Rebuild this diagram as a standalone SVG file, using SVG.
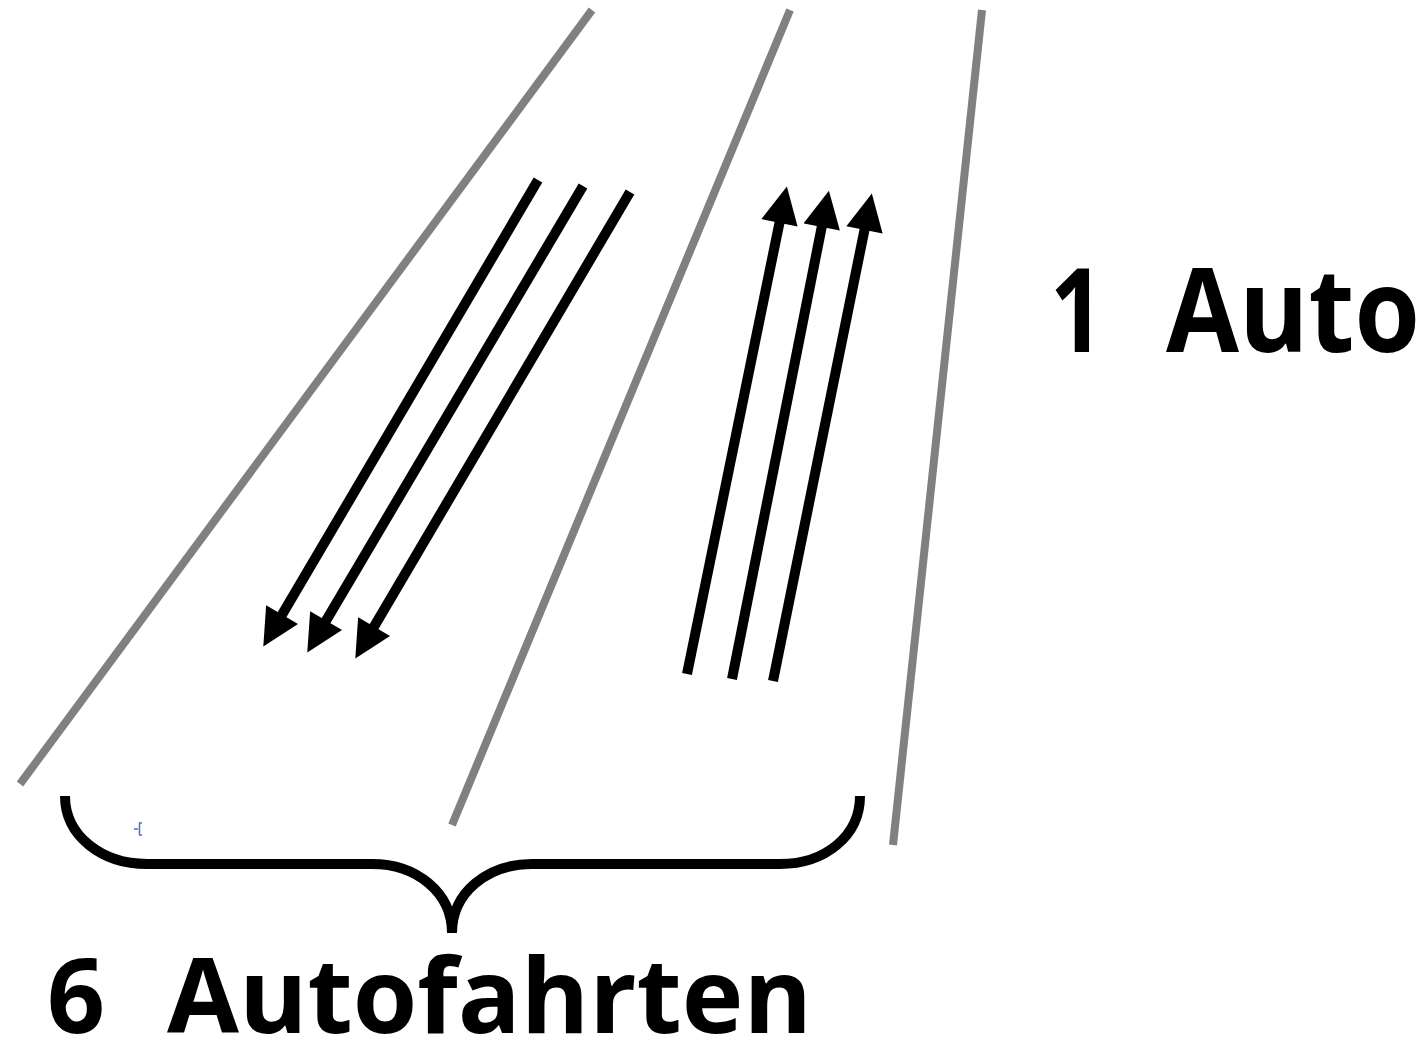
<svg xmlns="http://www.w3.org/2000/svg" width="1427" height="1040" viewBox="0 0 1427 1040">
<style>
.road{stroke:#808080;stroke-width:8;fill:none}
.arr{stroke:#000;stroke-width:10;fill:none;marker-end:url(#head)}
.brace{stroke:#000;stroke-width:10;fill:none}
.lbl{font-family:"Open Sans","Liberation Sans",sans-serif;font-weight:bold;fill:#000}
</style>
<defs>
<marker id="head" markerUnits="userSpaceOnUse" markerWidth="38" markerHeight="37" viewBox="0 0 10 10" refX="2.6" refY="5" orient="auto">
<path d="M0,0 L10,5 L0,10 z" fill="#000"/>
</marker>
</defs>
<rect width="1427" height="1040" fill="#fff"/>
<g id="roads">
<line class="road" x1="592" y1="10" x2="20" y2="784"/>
<line class="road" x1="790" y1="10" x2="452" y2="825"/>
<line class="road" x1="982" y1="10" x2="893" y2="845"/>
</g>
<g id="connectors">
<line class="arr" x1="538" y1="180" x2="277.2" y2="622.9"/>
<line class="arr" x1="583" y1="186" x2="321.2" y2="628.9"/>
<line class="arr" x1="630" y1="192" x2="369.2" y2="634.9"/>
<line class="arr" x1="687" y1="674" x2="781.4" y2="213.4"/>
<line class="arr" x1="732" y1="679" x2="823.6" y2="217.5"/>
<line class="arr" x1="773" y1="681" x2="866.4" y2="220.4"/>
</g>
<g id="brace">
<path class="brace" d="M65,796 C65,836 102,864 147,864 L372,864 C416,864 452,892 452,933 M452,933 C452,892 488,864 532,864 L780,864 C825,864 860,836 860,796"/>
</g>
<g id="anchor">
<path d="M134,829 L138,829 M142,823 L139.5,823 L139.5,835 L142,835" stroke="#4472C4" stroke-width="1.5" fill="none"/>
</g>
<g id="label-bottom">
<text class="lbl" x="47" y="1033" font-size="104" textLength="58" lengthAdjust="spacingAndGlyphs">6</text>
<text class="lbl" x="167" y="1033" font-size="104" textLength="645" lengthAdjust="spacingAndGlyphs">Autofahrten</text>
</g>
<g id="label-right">
<text class="lbl" x="1050" y="352" font-size="116" textLength="54" lengthAdjust="spacingAndGlyphs">1</text>
<text class="lbl" transform="translate(1166,352) scale(0.92,1)" x="0" y="0" font-size="116" textLength="276" lengthAdjust="spacingAndGlyphs">Auto</text>
</g>
</svg>
